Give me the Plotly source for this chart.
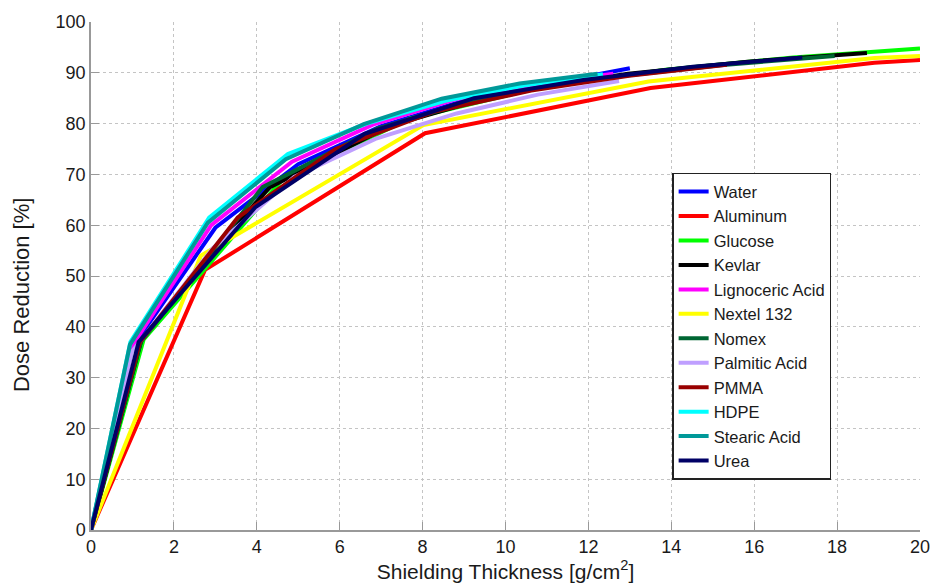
import plotly.graph_objects as go

names = ["Water", "Aluminum", "Glucose", "Kevlar", "Lignoceric Acid", "Nextel 132",
         "Nomex", "Palmitic Acid", "PMMA", "HDPE", "Stearic Acid", "Urea"]
colors = ["#0000ff", "#ff0000", "#00ff00", "#000000", "#ff00ff", "#ffff00",
          "#006633", "#bf9fff", "#990000", "#00ffff", "#009999", "#000066"]

water_x = [0, 1.0, 3.0, 5.0, 7.0, 9.0, 11.0, 13.0]
water_y = [0, 36.0, 59.5, 72.0, 79.5, 84.5, 87.8, 90.9]
aluminum_x = [0, 2.75, 8.06, 13.5, 18.9, 20.0]
aluminum_y = [0, 51.2, 78.1, 87.0, 92.0, 92.5]
glucose_x = [0, 1.27, 4.62, 7.7, 10.78, 13.86, 16.94, 20.0]
glucose_y = [0, 37.5, 69.0, 81.0, 87.0, 90.6, 93.0, 94.8]
kevlar_x = [0, 1.22, 3.15, 4.32, 7.2, 10.08, 12.96, 15.84, 18.72]
kevlar_y = [0, 37.5, 57.0, 67.5, 79.5, 86.3, 89.8, 92.2, 93.9]
lignoceric_x = [0, 0.97, 2.9, 4.85, 6.8, 8.75, 10.7, 12.6]
lignoceric_y = [0, 36.0, 60.0, 72.5, 79.8, 84.7, 87.7, 89.8]
nextel_x = [0, 2.65, 8.02, 13.45, 18.9, 20.0]
nextel_y = [0, 54.0, 79.7, 88.3, 92.9, 93.3]
nomex_x = [0, 1.2, 4.14, 6.9, 9.66, 12.42, 15.18, 17.94]
nomex_y = [0, 37.0, 67.5, 79.0, 85.5, 89.0, 91.5, 93.3]
palmitic_x = [0, 0.98, 2.94, 4.9, 6.86, 8.82, 10.78, 12.74]
palmitic_y = [0, 35.0, 55.5, 69.5, 77.0, 82.0, 85.7, 88.4]
pmma_x = [0, 1.18, 3.54, 5.9, 8.26, 10.62, 12.98, 15.34]
pmma_y = [0, 37.0, 61.5, 75.0, 82.3, 86.5, 89.4, 91.6]
hdpe_x = [0, 0.95, 2.85, 4.75, 6.65, 8.55, 10.45, 12.35]
hdpe_y = [0, 37.0, 61.5, 74.0, 80.0, 84.5, 87.5, 89.7]
stearic_x = [0, 0.94, 2.82, 4.7, 6.58, 8.46, 10.34, 12.22]
stearic_y = [0, 36.5, 60.5, 73.0, 79.9, 84.9, 87.9, 89.8]
urea_x = [0, 1.15, 3.96, 6.6, 9.24, 11.88, 14.52, 17.16]
urea_y = [0, 37.0, 63.5, 78.0, 85.0, 88.6, 91.2, 93.0]

series_x = [water_x, aluminum_x, glucose_x, kevlar_x, lignoceric_x, nextel_x,
            nomex_x, palmitic_x, pmma_x, hdpe_x, stearic_x, urea_x]
series_y = [water_y, aluminum_y, glucose_y, kevlar_y, lignoceric_y, nextel_y,
            nomex_y, palmitic_y, pmma_y, hdpe_y, stearic_y, urea_y]

x_ticks = list(range(0, 21, 2))
y_ticks = list(range(0, 101, 10))

fig = go.Figure()
for n, c, xs, ys in zip(names, colors, series_x, series_y):
    fig.add_trace(go.Scatter(x=xs, y=ys, mode="lines", name=n, legendgroup=n,
                             line=dict(color=c, width=4)))

axis_common = dict(showline=True, linecolor="#999999", linewidth=1.5,
                   ticks="inside", ticklen=8, tickcolor="#999999",
                   showgrid=True, gridcolor="#c4c4c4", griddash="dot", gridwidth=1.3,
                   zeroline=False, mirror=False, automargin=False,
                   tickfont=dict(size=18, color="#1a1a1a"))

fig.update_xaxes(range=[0, 20], tickvals=x_ticks, **axis_common,
                 title=dict(text="Shielding Thickness [g/cm<sup>2</sup>]",
                            font=dict(size=21, color="#1a1a1a"), standoff=1))
fig.update_yaxes(range=[0, 100], tickvals=y_ticks, **axis_common)

fig.add_annotation(text="Dose Reduction [%]", textangle=-90,
                   xref="paper", yref="paper", x=-0.0832, y=0.4626,
                   xanchor="center", yanchor="middle", showarrow=False,
                   font=dict(size=22, color="#1a1a1a"))

fig.update_layout(
    width=932, height=583,
    margin=dict(l=91, r=12, t=22, b=53),
    paper_bgcolor="white", plot_bgcolor="white",
    font=dict(family="Liberation Sans, Arial, sans-serif", color="#1a1a1a"),
    legend=dict(x=0.701, y=0.703, xanchor="left", yanchor="top",
                bgcolor="white", bordercolor="#222222", borderwidth=1.5,
                font=dict(size=16.5, color="#1a1a1a"), tracegroupgap=0,
                itemwidth=30),
    showlegend=True,
)

fig.write_html("out.html", config={"displayModeBar": False},
               post_script="document.body.style.margin='0';document.body.style.overflow='hidden';")
